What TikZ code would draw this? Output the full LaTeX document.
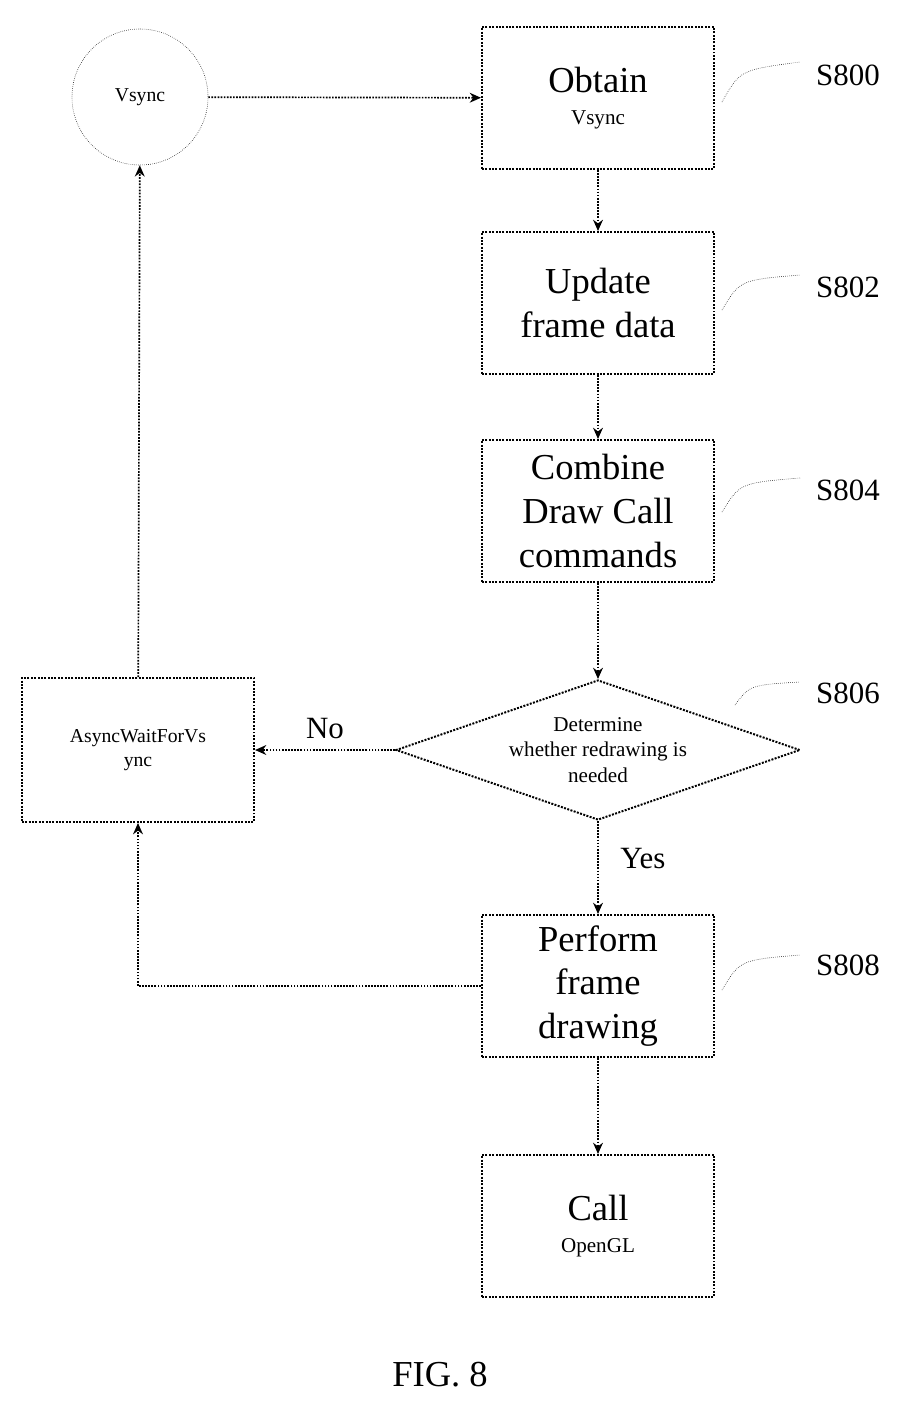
\documentclass[tikz,border=0pt]{standalone}
\usepackage{fontspec}
\setmainfont{Liberation Serif}
\usetikzlibrary{shapes.geometric,arrows.meta}
\tikzset{
  box/.style={draw, densely dotted, line width=1.4pt, minimum width=5.8cm, minimum height=3.55cm, align=center, font=\fontsize{26}{31}\selectfont},
  small/.style={font=\fontsize{14}{17}\selectfont},
  flow/.style={-{Stealth[length=8pt,width=7pt]}, line width=1.2pt, densely dotted},
  steplabel/.style={font=\fontsize{22}{26}\selectfont},
  lead/.style={densely dotted, thin}
}
\begin{document}
\begin{tikzpicture}[x=0.025cm,y=-0.025cm]
  \useasboundingbox (0,0) rectangle (906,1409);
  % main column
  \node[box] (obtain) at (598,98) {Obtain\\[-8pt]{\fontsize{15}{18}\selectfont Vsync}};
  \node[box] (update) at (598,303) {Update\\frame data};
  \node[box] (combine) at (598,511) {Combine\\Draw Call\\commands};
  \node[draw, densely dotted, line width=1.4pt, diamond, aspect=2.9, minimum width=10.1cm, minimum height=3.5cm, align=center, inner sep=0pt, font=\fontsize{15}{18}\selectfont] (decide) at (598,750) {Determine\\whether redrawing is\\needed};
  \node[box] (perform) at (598,986) {Perform\\frame\\drawing};
  \node[box] (call) at (598,1226) {Call\\[-8pt]{\fontsize{15}{18}\selectfont OpenGL}};
  % left side
  \node[draw, densely dotted, circle, minimum size=3.4cm, small] (vsync) at (140,97) {Vsync};
  \node[draw, densely dotted, line width=1.4pt, minimum width=5.8cm, minimum height=3.6cm, align=center, small] (async) at (138,750) {AsyncWaitForVs\\ync};
  % connectors
  \draw[flow] (vsync) -- (obtain);
  \draw[flow] (obtain) -- (update);
  \draw[flow] (update) -- (combine);
  \draw[flow] (combine) -- (decide);
  \draw[flow] (decide) -- node[above=4pt, font=\fontsize{22}{26}\selectfont] {No} (async);
  \draw[flow] (decide) -- node[right=12pt, pos=0.4, font=\fontsize{22}{26}\selectfont] {Yes} (perform);
  \draw[flow] (perform) -- (call);
  \draw[flow] (perform.west) -| (async.south);
  \draw[flow] (async) -- (vsync);
  % step labels
  \foreach \lbl/\yy in {S800/75, S802/287, S804/490, S806/693, S808/965}{
    \node[steplabel] (l\lbl) at (848,\yy) {\lbl};
  }
  \draw[lead] (722,102) .. controls (740,70) .. (800,62);
  \draw[lead] (722,310) .. controls (740,280) .. (800,275);
  \draw[lead] (722,512) .. controls (740,483) .. (800,478);
  \draw[lead] (735,705) .. controls (750,685) .. (800,682);
  \draw[lead] (722,990) .. controls (740,960) .. (800,955);
  \node[font=\fontsize{26}{30}\selectfont] (fig) at (440,1375) {FIG. 8};
\end{tikzpicture}
\end{document}
